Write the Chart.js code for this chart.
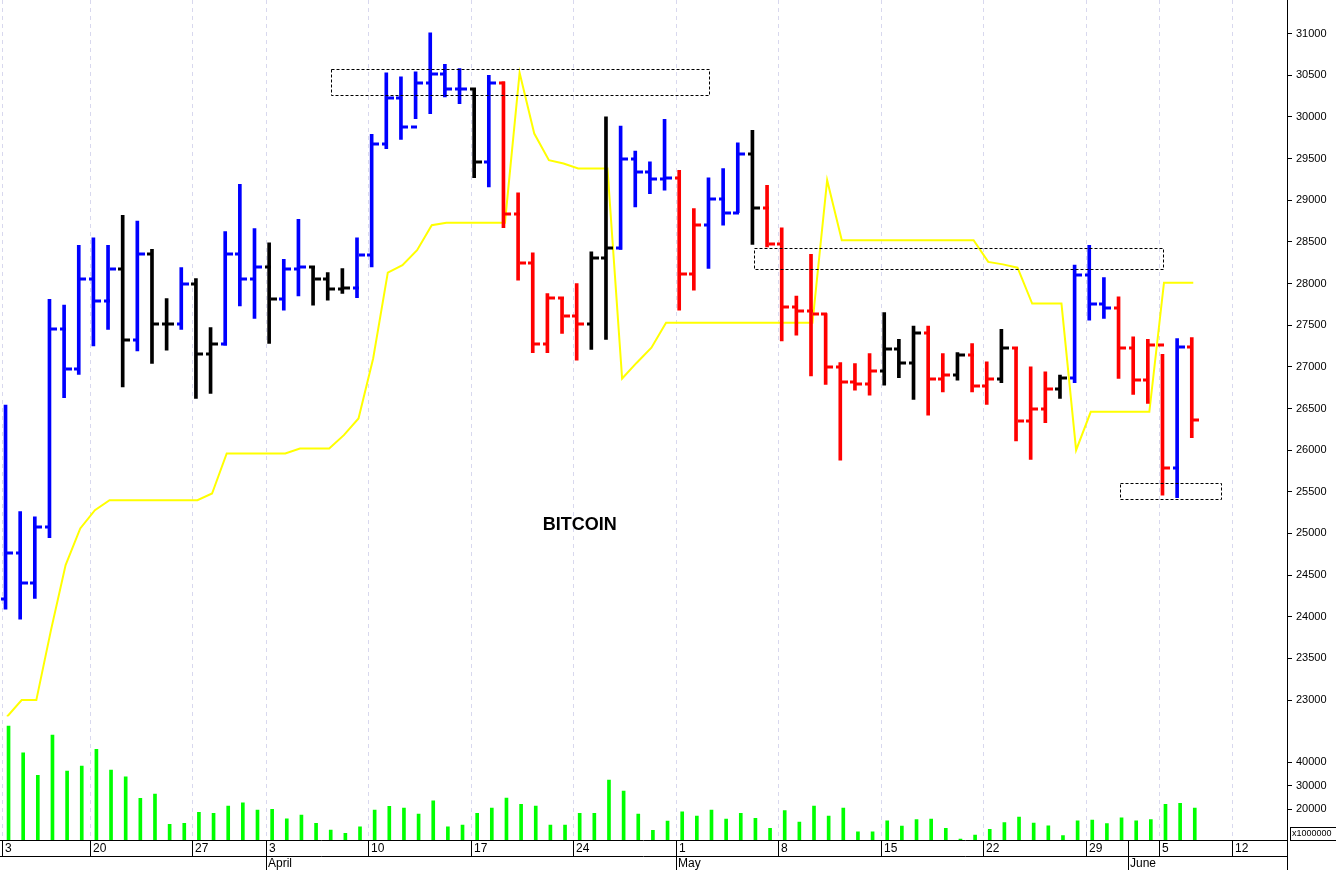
<!DOCTYPE html>
<html>
<head>
<meta charset="utf-8">
<script src="https://cdn.jsdelivr.net/npm/chart.js@4"></script>
<style>
html,body{margin:0;padding:0;background:#fff;}
#wrap{width:1336px;height:870px;position:relative;}
</style>
</head>
<body>
<div id="wrap"><canvas id="c" width="1336" height="870"></canvas></div>
<script>
// daily bars, index 0..81
var opens  = [24210,24760,24400,25075,27460,26980,28060,27790,28180,27320,28350,27510,27510,28000,27160,27280,28360,28050,28200,27810,28180,28200,28060,27940,27950,28340,29670,30230,29880,30410,30510,30330,30330,29460,30410,28840,28250,27280,27830,27610,27520,28310,28430,29500,29340,29260,29270,28110,28700,29020,28850,29560,28910,28470,27720,27670,27640,27000,26820,26800,26950,27210,27050,27410,26850,26900,27140,26770,26860,27230,26350,26490,26730,26870,28100,27760,27710,27230,26840,27260,25780,27240];
var highs  = [26540,25264,25200,27810,27740,28460,28550,28460,28820,28750,28410,27820,28190,28060,27470,28625,29190,28660,28490,28290,28770,28200,28130,28180,28550,29790,30530,30480,30540,31010,30630,30580,30340,30500,30420,29090,28370,27880,27830,28000,28380,30000,29890,29590,29460,29970,29360,28900,29270,29380,29690,29840,29180,28670,27850,28350,27640,27050,27040,27160,27650,27330,27490,27490,27160,27170,27280,27060,27450,27230,27000,26940,26900,28220,28460,28070,27840,27360,27330,27150,27340,27350];
var lows   = [24090,23970,24220,24950,26630,26910,27250,27450,26760,27190,27040,27200,27450,26620,26680,27260,27730,27580,27280,27680,27850,27740,27800,27880,27830,28200,29620,29730,29980,30040,30240,30160,29270,29160,28670,28040,27170,27170,27400,27080,27210,27330,28410,28920,29080,29120,27680,27920,28180,28700,28850,28470,28440,27310,27380,26890,26790,25880,26720,26660,26780,26870,26610,26420,26700,26840,26700,26550,26810,26110,25890,26330,26620,26810,27560,27580,26860,26670,26560,25460,25430,26150];
var closes = [24760,24400,25075,27460,26980,28060,27790,28180,27320,28350,27510,27510,28000,27160,27280,28360,28050,28200,27810,28180,28200,28060,27940,27950,28340,29670,30230,29880,30410,30510,30330,30330,29460,30410,28840,28250,27280,27830,27610,27520,28310,28430,29500,29340,29260,29270,28110,28700,29020,28850,29560,28910,28470,27720,27670,27640,27000,26820,26800,26950,27210,27050,27410,26850,26900,27140,26770,26860,27230,26350,26490,26730,26870,28100,27760,27710,27230,26840,27260,25780,27240,26360];
// b = blue, r = red, k = black
var barColors = "bbbbbbbbkbkkbkkbbbkbbkkkbbbbbbbbkbrrrrrrkkbbbbrrbbbkrrrrrrrrkkkrrkrrkrrrkbbbrrrrbr";
var yellowLine = [22800,23000,23000,23840,24620,25060,25280,25400,25400,25400,25400,25400,25400,25400,25480,25960,25960,25960,25960,25960,26020,26020,26020,26180,26380,27100,28130,28220,28400,28700,28730,28730,28730,28730,28730,30530,29800,29480,29440,29380,29380,29380,26860,27050,27230,27530,27530,27530,27530,27530,27530,27530,27530,27530,27530,27530,29240,28520,28520,28520,28520,28520,28520,28520,28520,28520,28520,28260,28230,28190,27760,27760,27760,26000,26460,26460,26460,26460,26460,28010,28010,28010];
var volumes = [55300,43960,34330,51490,36170,38300,45400,36600,33750,24540,26380,13490,13910,18590,18170,21280,22690,19570,19860,15870,17450,13910,11060,9660,12470,19570,21150,20430,17870,23530,12470,13190,18170,20430,24680,22000,21280,13190,13190,18170,18170,32340,27660,17870,10900,14890,18850,17020,19570,15740,18170,16040,11790,19290,14470,21280,17020,20430,10340,10340,15020,12770,15460,15740,11790,7230,8940,11360,14180,16600,14040,12890,8640,15020,15320,13750,16300,15020,15460,22000,22430,20430];
// date ticks (bar index -> label)
var tickIdx    = [0,6,13,18,25,32,39,46,53,60,67,74,79,84];
var tickLabels = ["3","20","27","3","10","17","24","1","8","15","22","29","5","12"];
var monthIdx    = [18,46,76.9];
var monthLabels = ["April","May","June"];
// dashed boxes: [fromIdx, toIdx, low, high]
var boxes = [[22.1,47.9,30270,30580],[51,78.9,28180,28430],[76,82.9,25420,25610]];
var priceTicks = [23000,23500,24000,24500,25000,25500,26000,26500,27000,27500,28000,28500,29000,29500,30000,30500,31000];
var volTicks = [20000,30000,40000];

var colorMap = {b:"#0000ff", r:"#ff0000", k:"#000000"};
var hlData = [], volData = [], lineData = [], cols = [];
for (var i = 0; i < highs.length; i++) {
	hlData.push({x:i, y:[lows[i], highs[i]]});
	volData.push({x:i, y:volumes[i]});
	lineData.push({x:i, y:yellowLine[i]});
	cols.push(colorMap[barColors[i]]);
}

var extras = {
	id: "extras",
	beforeDatasetsDraw: function(chart) {
		var ctx = chart.ctx, xs = chart.scales.x, a = chart.chartArea;
		ctx.save();
		ctx.strokeStyle = "#d8d8ee"; ctx.lineWidth = 1; ctx.setLineDash([4,4]);
		tickIdx.forEach(function(t) {
			var x = Math.round(xs.getPixelForValue(t)) - 4.5;
			if (x < 1) return;
			ctx.beginPath(); ctx.moveTo(x, 0); ctx.lineTo(x, a.bottom); ctx.stroke();
		});
		ctx.restore();
	},
	afterDatasetsDraw: function(chart) {
		var ctx = chart.ctx, xs = chart.scales.x, ys = chart.scales.y, a = chart.chartArea;
		ctx.save();
		// open / close ticks
		ctx.lineWidth = 3;
		for (var i = 0; i < opens.length; i++) {
			var x = Math.round(xs.getPixelForValue(i));
			ctx.strokeStyle = cols[i];
			var yo = Math.round(ys.getPixelForValue(opens[i])), yc = Math.round(ys.getPixelForValue(closes[i]));
			ctx.beginPath();
			ctx.moveTo(x - 6, yo); ctx.lineTo(x, yo);
			ctx.moveTo(x, yc); ctx.lineTo(x + 6, yc);
			ctx.stroke();
		}
		// dashed boxes
		ctx.lineWidth = 1; ctx.strokeStyle = "#000"; ctx.setLineDash([3,2]);
		boxes.forEach(function(b) {
			var x1 = xs.getPixelForValue(b[0]), x2 = xs.getPixelForValue(b[1]);
			var y1 = ys.getPixelForValue(b[3]), y2 = ys.getPixelForValue(b[2]);
			ctx.strokeRect(Math.round(x1)+0.5, Math.round(y1)+0.5, Math.round(x2-x1), Math.round(y2-y1));
		});
		ctx.setLineDash([]);
		// title
		ctx.fillStyle = "#000"; ctx.font = "bold 18px 'Liberation Sans', Arial";
		ctx.textAlign = "center"; ctx.textBaseline = "middle";
		ctx.fillText("BITCOIN", xs.getPixelForValue(39.1), ys.getPixelForValue(25100));
		// bottom date rows
		var yb = a.bottom, right = a.right;
		ctx.strokeStyle = "#000"; ctx.lineWidth = 1;
		ctx.beginPath();
		ctx.moveTo(0, yb + 0.5); ctx.lineTo(right, yb + 0.5);
		ctx.moveTo(0, yb + 16.5); ctx.lineTo(right, yb + 16.5);
		ctx.moveTo(right + 0.5, 0); ctx.lineTo(right + 0.5, 870);
		ctx.stroke();
		ctx.font = "12px 'Liberation Sans', Arial"; ctx.textAlign = "left"; ctx.textBaseline = "middle";
		tickIdx.forEach(function(t, k) {
			var x = Math.round(xs.getPixelForValue(t)) - 5;
			if (x < 0) x = 0;
			ctx.beginPath(); ctx.moveTo(x + 0.5, yb); ctx.lineTo(x + 0.5, yb + 16); ctx.stroke();
			ctx.fillText(tickLabels[k], x + 3, yb + 9);
		});
		monthIdx.forEach(function(t, k) {
			var x = Math.round(xs.getPixelForValue(t)) - 5;
			ctx.beginPath(); ctx.moveTo(x + 0.5, k == 2 ? yb : yb + 16); ctx.lineTo(x + 0.5, 870); ctx.stroke();
			ctx.fillText(monthLabels[k], x + 2, yb + 24);
		});
		// volume multiplier box
		ctx.font = "9px 'Liberation Sans', Arial";
		ctx.strokeRect(right + 3.5, yb - 12.5, 46, 13);
		ctx.fillText("x1000000", right + 5, yb - 6);
		ctx.restore();
	}
};

var rightFit = function(scale) { scale.width = 49; };
var plainLabel = function(v) { return String(v); };

new Chart(document.getElementById("c"), {
	data: {
		datasets: [
			{type:"line", data:lineData, yAxisID:"y", borderColor:"#ffff00", borderWidth:2, pointRadius:0, tension:0, order:2},
			{type:"bar", data:hlData, yAxisID:"y", backgroundColor:cols, barThickness:3, order:1},
			{type:"bar", data:volData, yAxisID:"v", backgroundColor:"#00ff00", barThickness:3, order:1}
		]
	},
	options: {
		responsive:false, animation:false,
		layout:{padding:{bottom:22, top:0, left:0, right:0}},
		plugins:{legend:{display:false}, tooltip:{enabled:false}},
		scales: {
			x: {
				type:"linear", min:-0.48, max:87.4, offset:false,
				ticks:{display:false},
				grid:{display:false},
				border:{display:false}
			},
			y: {
				position:"right", stack:"r", stackWeight:706.5, min:22802, max:31276,
				afterBuildTicks: function(s) { s.ticks = priceTicks.map(function(v){ return {value:v}; }); },
				afterFit: rightFit,
				ticks:{color:"#000", font:{size:11, family:"'Liberation Sans', Arial"}, padding:4, callback:plainLabel},
				grid:{drawOnChartArea:false, color:"#000", tickLength:5},
				border:{color:"#000"}
			},
			v: {
				position:"right", stack:"r", stackWeight:123.5, min:6810, max:59360,
				afterBuildTicks: function(s) { s.ticks = volTicks.map(function(v){ return {value:v}; }); },
				afterFit: rightFit,
				ticks:{color:"#000", font:{size:11, family:"'Liberation Sans', Arial"}, padding:4, callback:plainLabel},
				grid:{drawOnChartArea:false, color:"#000", tickLength:5},
				border:{color:"#000"}
			}
		}
	},
	plugins:[extras]
});
</script>
</body>
</html>
